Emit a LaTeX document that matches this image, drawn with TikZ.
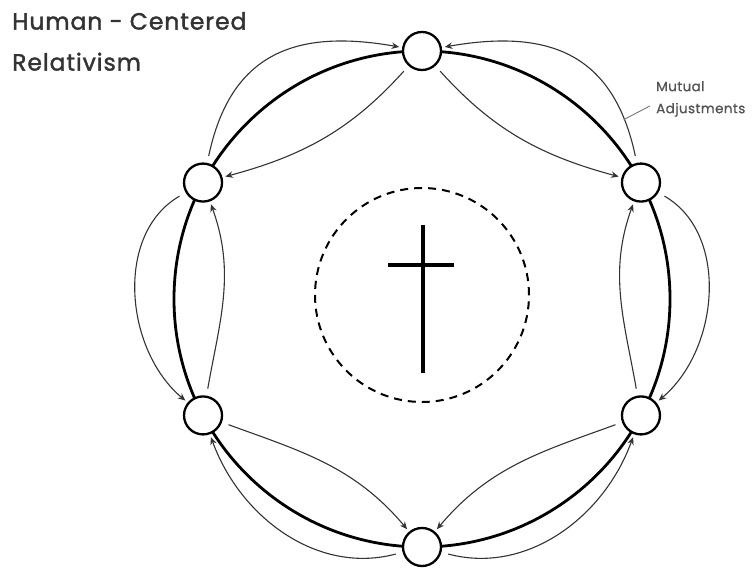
\documentclass[tikz,border=0pt]{standalone}
\usepackage{fontspec}
\setmainfont{Poppins}
\newfontfamily\titlefont{Poppins}[LetterSpace=4, FakeBold=1.6]
\newfontfamily\notefont{Poppins}[LetterSpace=3, FakeBold=1]
\usepackage{tikz}
\usetikzlibrary{arrows.meta,calc}
\definecolor{ink}{HTML}{333333}
\definecolor{muted}{HTML}{555555}

\tikzset{
  spot/.style={circle, draw=black, line width=2.3pt, fill=white, minimum size=38pt, inner sep=0pt},
  ring/.style={line width=2.8pt},
  adj/.style={-{Stealth[length=7.5pt,width=6.5pt]}, line width=1.1pt, draw=ink, shorten <=7pt, shorten >=3pt},
  pointer/.style={line width=0.9pt, draw=muted!80},
}

\begin{document}
\begin{tikzpicture}[x=1pt, y=1pt]
  \useasboundingbox (0,0) rectangle (752,569);
  \coordinate (O) at (422,270);

  % title
  \node[anchor=north west, inner sep=0pt, align=left, text=ink,
        font=\titlefont\fontsize{23.5}{41}\selectfont] (title) at (12,557) {Human - Centered\\Relativism};

  % the ring and its six positions
  \draw[ring] (O) circle (248);
  \node[spot] (T)  at ($(O)+(90:248)$) {};
  \node[spot] (RU) at ($(O)+(28:248)$) {};
  \node[spot] (RL) at ($(O)+(-28:248)$) {};
  \node[spot] (B)  at ($(O)+(270:248)$) {};
  \node[spot] (LL) at ($(O)+(208:248)$) {};
  \node[spot] (LU) at ($(O)+(152:248)$) {};

  % centre
  \draw[line width=2pt, dash pattern=on 8pt off 6pt] (422,274) circle (107);
  \draw[line width=3.6pt] (423,344) -- (423,196);
  \draw[line width=3.6pt] (388,304) -- (454,304);

  % outer arcs
  \draw[adj] (LU) to[out=78, in=170, looseness=1.25] (T);
  \draw[adj] (RU) to[out=102, in=10, looseness=1.25] coordinate[pos=0.15] (touch) (T);
  \draw[adj] (RU) to[out=-30, in=40] (RL);
  \draw[adj] (B) to[out=-15, in=250] (RL);
  \draw[adj] (B) to[out=195, in=290] (LL);
  \draw[adj] (LU) to[out=210, in=140] (LL);

  % inner arcs
  \draw[adj] (T) to[out=228, in=15] (LU);
  \draw[adj] (T) to[out=-48, in=165] (RU);
  \draw[adj] (RL) to[out=100, in=-110] (RU);
  \draw[adj] (RL) to[out=200, in=50] (B);
  \draw[adj] (LL) to[out=-20, in=130] (B);
  \draw[adj] (LL) to[out=80, in=-70] (LU);

  % label
  \node[anchor=north west, inner sep=0pt, align=left, text=muted,
        font=\notefont\fontsize{13.5}{22}\selectfont] (mutual) at (656,488) {Mutual\\Adjustments};
  \draw[pointer] ([shift={(-6pt,-7pt)}]mutual.west) -- (touch);
\end{tikzpicture}
\end{document}
